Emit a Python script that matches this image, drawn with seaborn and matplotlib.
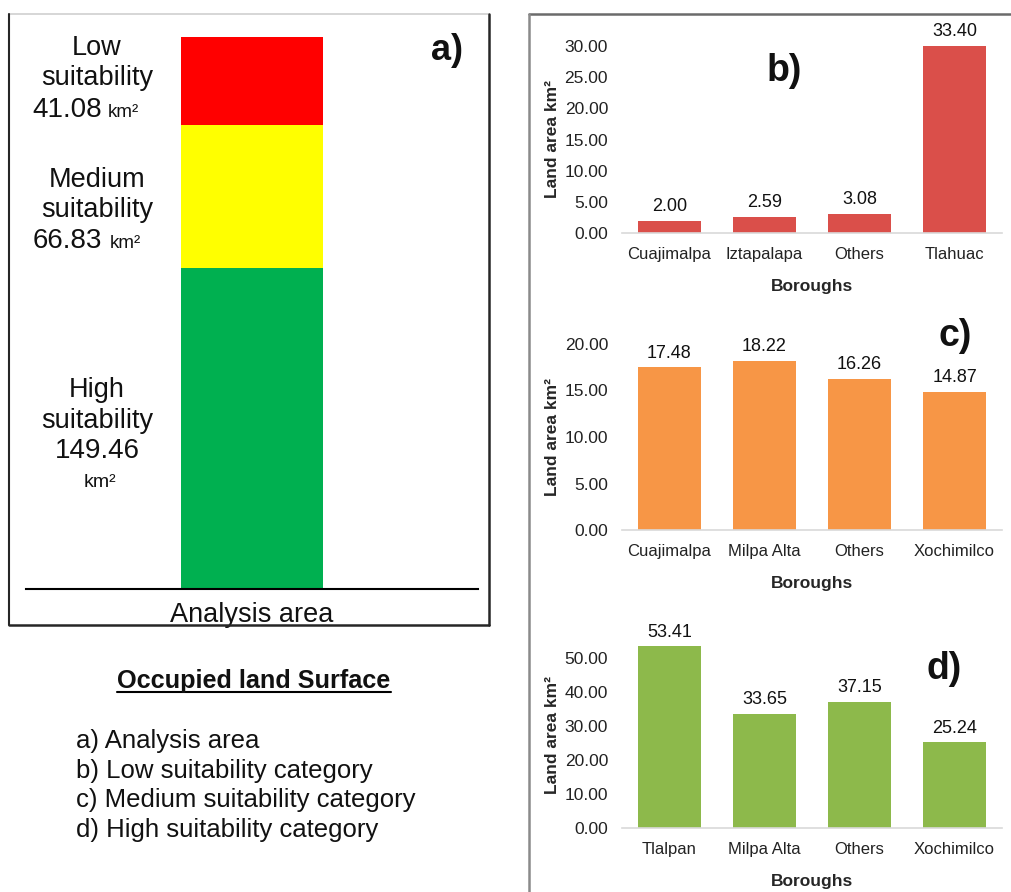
import numpy as np
import matplotlib
matplotlib.use("Agg")
import matplotlib.pyplot as plt
import seaborn as sns
from matplotlib.lines import Line2D

# ---------------- data ----------------
suit_levels = ["Low", "Medium", "High"]
suit_area = [41.08, 66.83, 149.46]
suit_colors = ["#FF0000", "#FFFF00", "#00B050"]
area_label = "Analysis area"

low_boroughs = ["Cuajimalpa", "Iztapalapa", "Others", "Tlahuac"]
low_values = [2.00, 2.59, 3.08, 33.40]
med_boroughs = ["Cuajimalpa", "Milpa Alta", "Others", "Xochimilco"]
med_values = [17.48, 18.22, 16.26, 14.87]
high_boroughs = ["Tlalpan", "Milpa Alta", "Others", "Xochimilco"]
high_values = [53.41, 33.65, 37.15, 25.24]

b_ticks = [0, 5, 10, 15, 20, 25, 30]
c_ticks = [0, 5, 10, 15, 20]
d_ticks = [0, 10, 20, 30, 40, 50]

legend_title = "Occupied land Surface"
legend_items = ["a) Analysis area", "b) Low suitability category",
                "c) Medium suitability category", "d) High suitability category"]

# ---------------- style ----------------
sns.set_style("white")
plt.rcParams['font.family'] = ['Liberation Sans', 'DejaVu Sans']
plt.rcParams['text.color'] = '#111111'
plt.rcParams['xtick.color'] = '#222222'
plt.rcParams['ytick.color'] = '#222222'

W, H = 1011, 892
fig = plt.figure(figsize=(W / 100, H / 100), dpi=100)


def fx(x):
    return x / W


def fy(y):
    return 1 - y / H


# ---------------- panel a ----------------
axA = fig.add_axes([fx(26), fy(589), fx(478) - fx(26), fy(37) - fy(589)])
total = sum(suit_area)
for i in range(len(suit_levels)):
    top = sum(suit_area[i:])
    sns.barplot(x=[area_label], y=[top], color=suit_colors[i], width=0.312,
                saturation=1, ax=axA, linewidth=0)
axA.set_ylim(0, total)
axA.set_xlim(-0.5, 0.5)
for s in ['top', 'left', 'right']:
    axA.spines[s].set_visible(False)
axA.spines['bottom'].set_color('#000000')
axA.spines['bottom'].set_linewidth(1.5)
axA.set_yticks([])
axA.tick_params(axis='x', length=0, pad=9, labelsize=19.5, labelcolor='#111111')
axA.set_xlabel('')
axA.set_ylabel('')

lab_fs = 19.5
# Low
fig.text(fx(97), fy(55), suit_levels[0], fontsize=lab_fs, ha='center', va='baseline')
fig.text(fx(97), fy(85), "suitability", fontsize=lab_fs, ha='center', va='baseline')
fig.text(fx(32), fy(117), f"{suit_area[0]:.2f}", fontsize=20, ha='left', va='baseline')
fig.text(fx(108), fy(117), "km²", fontsize=13.5, ha='left', va='baseline')
# Medium
fig.text(fx(97), fy(187), suit_levels[1], fontsize=lab_fs, ha='center', va='baseline')
fig.text(fx(97), fy(217), "suitability", fontsize=lab_fs, ha='center', va='baseline')
fig.text(fx(33), fy(248), f"{suit_area[1]:.2f}", fontsize=20, ha='left', va='baseline')
fig.text(fx(110), fy(248), "km²", fontsize=13.5, ha='left', va='baseline')
# High
fig.text(fx(97), fy(397), suit_levels[2], fontsize=lab_fs, ha='center', va='baseline')
fig.text(fx(97), fy(428), "suitability", fontsize=lab_fs, ha='center', va='baseline')
fig.text(fx(97), fy(458), f"{suit_area[2]:.2f}", fontsize=20, ha='center', va='baseline')
fig.text(fx(100), fy(487), "km²", fontsize=14, ha='center', va='baseline')

fig.text(fx(447), fy(50), "a)", fontsize=26, fontweight='bold', ha='center', va='center')


# ---------------- panels b, c, d ----------------
def bar_panel(top_px, bottom_px, cats, vals, color, ticks, ytop, tag, tag_xy):
    ax = fig.add_axes([fx(622), fy(bottom_px), fx(1002) - fx(622), fy(top_px) - fy(bottom_px)])
    sns.barplot(x=cats, y=vals, color=color, width=0.66, saturation=1, ax=ax, linewidth=0)
    ax.set_ylim(0, ytop)
    ax.set_yticks(ticks)
    ax.set_yticklabels([f"{t:.2f}" for t in ticks], fontsize=12.5)
    ax.tick_params(axis='y', length=0, pad=10)
    ax.tick_params(axis='x', length=0, pad=10, labelsize=12)
    for s in ['top', 'right', 'left']:
        ax.spines[s].set_visible(False)
    ax.spines['bottom'].set_color('#D9D9D9')
    ax.spines['bottom'].set_linewidth(1.2)
    ax.set_ylabel('Land area km²', fontsize=12.5, fontweight='bold', labelpad=3)
    ax.set_xlabel('Boroughs', fontsize=12.5, fontweight='bold', labelpad=12)
    for i, v in enumerate(vals):
        ax.annotate(f"{v:.2f}", xy=(i, min(v, ytop)), xytext=(0, 4),
                    textcoords='offset points', ha='center', va='bottom',
                    fontsize=13, annotation_clip=False)
    fig.text(fx(tag_xy[0]), fy(tag_xy[1]), tag, fontsize=27, fontweight='bold',
             ha='center', va='center')
    return ax


bar_panel(46, 233, low_boroughs, low_values, "#DA4F4A", b_ticks, 30, "b)", (784, 71))
bar_panel(344, 530, med_boroughs, med_values, "#F79646", c_ticks, 20, "c)", (955, 336))
bar_panel(641, 828, high_boroughs, high_values, "#8DB94B", d_ticks, 55, "d)", (944, 669))

# ---------------- legend text ----------------
t_title = fig.text(fx(254), fy(688), legend_title, fontsize=18.2, fontweight='bold',
                   ha='center', va='baseline')
fig.canvas.draw()
bb = t_title.get_window_extent()
fig.add_artist(Line2D([bb.x0 / W, bb.x1 / W], [fy(692), fy(692)], color='black',
                      lw=1.5, transform=fig.transFigure))
for k, item in enumerate(legend_items):
    fig.text(fx(76), fy(748 + k * 29.7), item, fontsize=18.5, ha='left', va='baseline')

# ---------------- frames ----------------
def fline(x0, y0, x1, y1, color, lw):
    fig.add_artist(Line2D([fx(x0), fx(x1)], [fy(y0), fy(y1)], color=color, lw=lw,
                          transform=fig.transFigure))


fline(9, 14, 489, 14, '#D0D0D0', 1.2)
fline(9, 14, 9, 625, '#262626', 1.5)
fline(489, 14, 489, 625, '#262626', 1.8)
fline(9, 625, 489, 625, '#262626', 1.8)
fline(529, 14, 1011, 14, '#6B6B6B', 1.8)
fline(529, 14, 529, 892, '#8A8A8A', 1.8)

fig.savefig('out.png', dpi=100)
